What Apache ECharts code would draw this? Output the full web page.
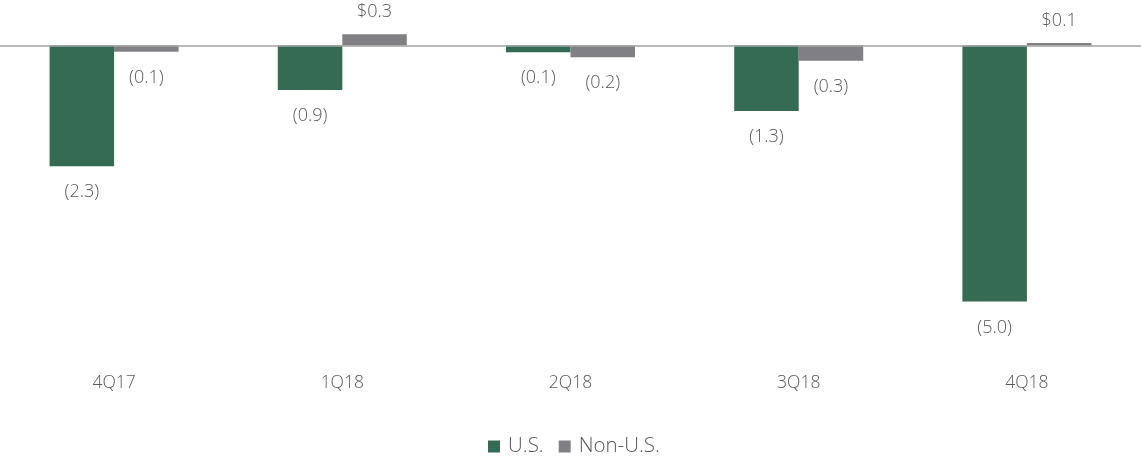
<!DOCTYPE html>
<html>
<head>
<meta charset="utf-8">
<script src="https://cdn.jsdelivr.net/npm/echarts@6/dist/echarts.min.js"></script>
<style>html,body{margin:0;padding:0;background:#fff}#c{width:1141px;height:458px}</style>
</head>
<body>
<div id="c"></div>
<script>
const categories = ['4Q17', '1Q18', '2Q18', '3Q18', '4Q18'];
const usValues = [-2.36, -0.87, -0.13, -1.28, -5.0];
const nonUsValues = [-0.12, 0.22, -0.23, -0.30, 0.05];
const usLabels = ['(2.3)', '(0.9)', '(0.1)', '(1.3)', '(5.0)'];
const nonUsLabels = ['(0.1)', '$0.3', '(0.2)', '(0.3)', '$0.1'];

const FONT = '"Open Sans", sans-serif';
const TXT = '#595959';

function mk(vals, labels) {
  return vals.map((v, i) => ({
    value: v,
    label: { position: v < 0 ? 'bottom' : 'top', formatter: labels[i], distance: v < 0 ? 17 : 13 }
  }));
}

const chart = echarts.init(document.getElementById('c'));
chart.setOption({
  animation: false,
  textStyle: { fontFamily: FONT },
  grid: { left: -2, right: 0, top: 4.54, bottom: 84.8, containLabel: false },
  legend: {
    top: 436, left: 488, padding: 0,
    itemWidth: 12, itemHeight: 12, itemGap: 15,
    icon: 'rect',
    textStyle: { fontFamily: FONT, fontWeight: 300, fontSize: 20.5, lineHeight: 20, color: TXT, padding: [0, 0, 0, 3] },
    data: ['U.S.', 'Non-U.S.']
  },
  xAxis: {
    type: 'category', data: categories, position: 'bottom',
    axisLine: { show: false, onZero: false }, axisTick: { show: false },
    axisLabel: { margin: 1, fontFamily: FONT, fontWeight: 300, fontSize: 17.5, color: TXT }
  },
  yAxis: {
    type: 'value', min: -6.4, max: 0.8, show: false,
    splitLine: { show: false }
  },
  series: [
    {
      name: 'U.S.', type: 'bar', data: mk(usValues, usLabels),
      barWidth: 64.5, barGap: '0%', itemStyle: { color: '#356A53' },
      label: { show: true, fontFamily: FONT, fontWeight: 300, fontSize: 18, color: TXT },
      markLine: {
        silent: true, symbol: 'none', label: { show: false },
        lineStyle: { color: '#a3a3a3', width: 1.5, type: 'solid' },
        data: [{ yAxis: 0 }]
      }
    },
    {
      name: 'Non-U.S.', type: 'bar', data: mk(nonUsValues, nonUsLabels),
      barWidth: 64.5, barGap: '0%', itemStyle: { color: '#807F83' },
      label: { show: true, fontFamily: FONT, fontWeight: 300, fontSize: 18, color: TXT }
    }
  ]
});
</script>
</body>
</html>
